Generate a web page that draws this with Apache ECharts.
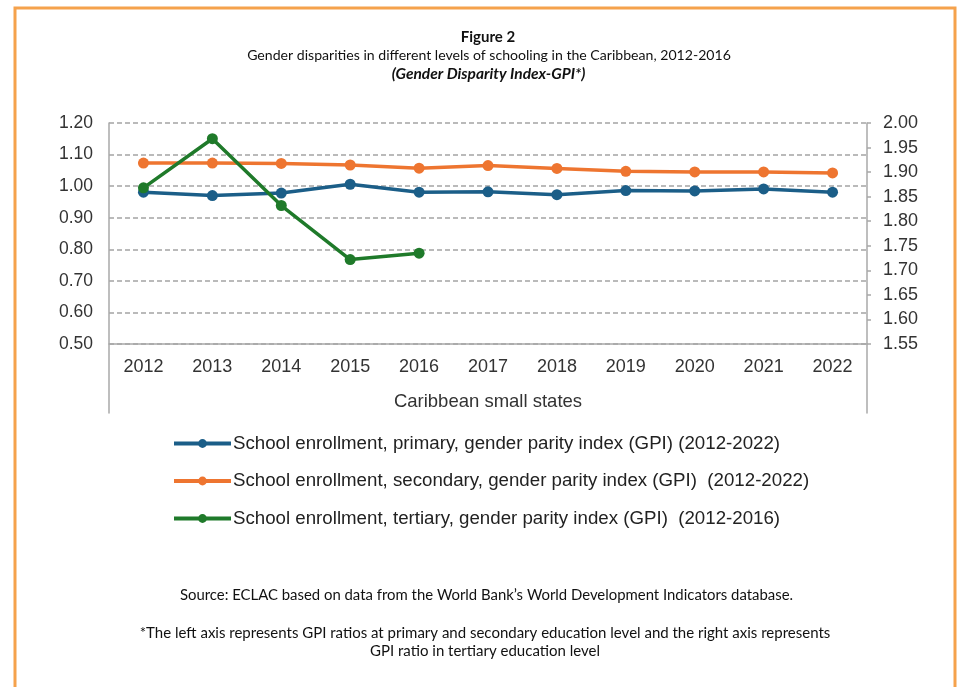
<!DOCTYPE html>
<html>
<head>
<meta charset="utf-8">
<script src="https://cdn.jsdelivr.net/npm/echarts@6/dist/echarts.min.js"></script>
<style>
html,body{margin:0;padding:0;background:#fff;}
#chart{width:959px;height:687px;}
</style>
</head>
<body>
<div id="chart"></div>
<script>
const years = ['2012','2013','2014','2015','2016','2017','2018','2019','2020','2021','2022'];
const primary = [0.981, 0.970, 0.978, 1.006, 0.981, 0.982, 0.973, 0.986, 0.985, 0.991, 0.981];
const secondary = [1.073, 1.073, 1.072, 1.067, 1.057, 1.065, 1.056, 1.047, 1.045, 1.045, 1.042];
const tertiary = [1.868, 1.968, 1.832, 1.722, 1.735, null, null, null, null, null, null];
const seriesNames = [
  'School enrollment, primary, gender parity index (GPI) (2012-2022)',
  'School enrollment, secondary, gender parity index (GPI)  (2012-2022)',
  'School enrollment, tertiary, gender parity index (GPI)  (2012-2016)'
];
const titleText = 'Figure 2';
const subtitleText = 'Gender disparities in different levels of schooling in the Caribbean, 2012-2016';
const subtitle2Text = '(Gender Disparity Index-GPI*)';
const sourceText = 'Source: ECLAC based on data from the World Bank\u2019s World Development Indicators database.';
const noteLine1 = '*The left axis represents GPI ratios at primary and secondary education level and the right axis represents';
const noteLine2 = 'GPI ratio in tertiary education level';
const xAxisName = 'Caribbean small states';

const colors = ['#1b5e88', '#ee7530', '#1f7a2a'];
const axisColor = '#a8a8a8';
const labelFont = 'Liberation Sans';
const titleFont = 'Lato';

const chart = echarts.init(document.getElementById('chart'));
const mkSeries = (name, data, color, yIdx) => ({
  name, type: 'line', data, yAxisIndex: yIdx, xAxisIndex: 0,
  symbol: 'circle', symbolSize: 11, connectNulls: false,
  lineStyle: {color, width: 3.5}, itemStyle: {color},
  emphasis: {disabled: true}, z: 3
});
const tStyle = (size, weight, style) => ({fontFamily: titleFont, fontSize: size, fontWeight: weight, fontStyle: style || 'normal', color: '#111'});
chart.setOption({
  animation: false,
  title: [
    {text: titleText, left: 483, top: 25, textAlign: 'center', textStyle: tStyle(15, 'bold')},
    {text: subtitleText, left: 484, top: 43, textAlign: 'center', textStyle: tStyle(14.1, 'normal')},
    {text: subtitle2Text, left: 483.5, top: 61, textAlign: 'center', textStyle: tStyle(15.5, 'bold', 'italic')},
    {text: sourceText, left: 481.5, top: 583, textAlign: 'center', textStyle: tStyle(14.9, 'normal')},
    {text: noteLine1, left: 480, top: 621, textAlign: 'center', textStyle: tStyle(15, 'normal')},
    {text: noteLine2, left: 480, top: 639, textAlign: 'center', textStyle: tStyle(15, 'normal')}
  ],
  graphic: [
    {type: 'rect', shape: {x: 15, y: 8, width: 940, height: 720}, style: {fill: 'none', stroke: '#f5a24c', lineWidth: 3}, silent: true}
  ],
  legend: {
    orient: 'vertical', left: 167, top: 428, itemGap: 16.5,
    itemWidth: 57, itemHeight: 11,
    data: seriesNames,
    lineStyle: {width: 4},
    textStyle: {fontFamily: labelFont, fontSize: 18.7, lineHeight: 21, color: '#222', padding: [0, 0, 0, -3]},
    selectedMode: false
  },
  grid: [
    {left: 109, right: 92, top: 123, bottom: 343, containLabel: false},
    {left: 109, right: 92, top: 123, bottom: 274, containLabel: false}
  ],
  xAxis: [
    {type: 'category', gridIndex: 0, data: years, boundaryGap: true,
     axisLine: {lineStyle: {color: axisColor, width: 1.5}},
     axisTick: {show: false},
     axisLabel: {fontFamily: labelFont, fontSize: 18, color: '#333', margin: 14},
     name: xAxisName, nameLocation: 'middle', nameGap: 48,
     nameTextStyle: {fontFamily: labelFont, fontSize: 18.5, color: '#333'}},
    {type: 'category', gridIndex: 1, data: years, show: false}
  ],
  yAxis: [
    {type: 'value', gridIndex: 0, position: 'left', min: 0.5, max: 1.2, interval: 0.1,
     axisLine: {show: false},
     axisTick: {show: false},
     axisLabel: {fontFamily: labelFont, fontSize: 17.5, color: '#333', margin: 16, formatter: v => v.toFixed(2)},
     splitLine: {show: true, lineStyle: {color: '#a4a4a4', type: [5, 3], width: 1.5}}},
    {type: 'value', gridIndex: 0, position: 'right', min: 1.55, max: 2.0, interval: 0.05,
     axisLine: {show: false},
     axisTick: {show: true, length: 4, inside: false, lineStyle: {color: axisColor, width: 1.5}},
     axisLabel: {fontFamily: labelFont, fontSize: 18, color: '#333', margin: 16, formatter: v => v.toFixed(2)},
     splitLine: {show: false}},
    {type: 'value', gridIndex: 1, position: 'left', min: 0, max: 1,
     axisLine: {show: true, lineStyle: {color: axisColor, width: 1.5}},
     axisTick: {show: false}, axisLabel: {show: false}, splitLine: {show: false}},
    {type: 'value', gridIndex: 1, position: 'right', min: 0, max: 1,
     axisLine: {show: true, lineStyle: {color: axisColor, width: 1.5}},
     axisTick: {show: false}, axisLabel: {show: false}, splitLine: {show: false}}
  ],
  series: [
    mkSeries(seriesNames[0], primary, colors[0], 0),
    mkSeries(seriesNames[1], secondary, colors[1], 0),
    mkSeries(seriesNames[2], tertiary, colors[2], 1)
  ]
});
</script>
</body>
</html>
